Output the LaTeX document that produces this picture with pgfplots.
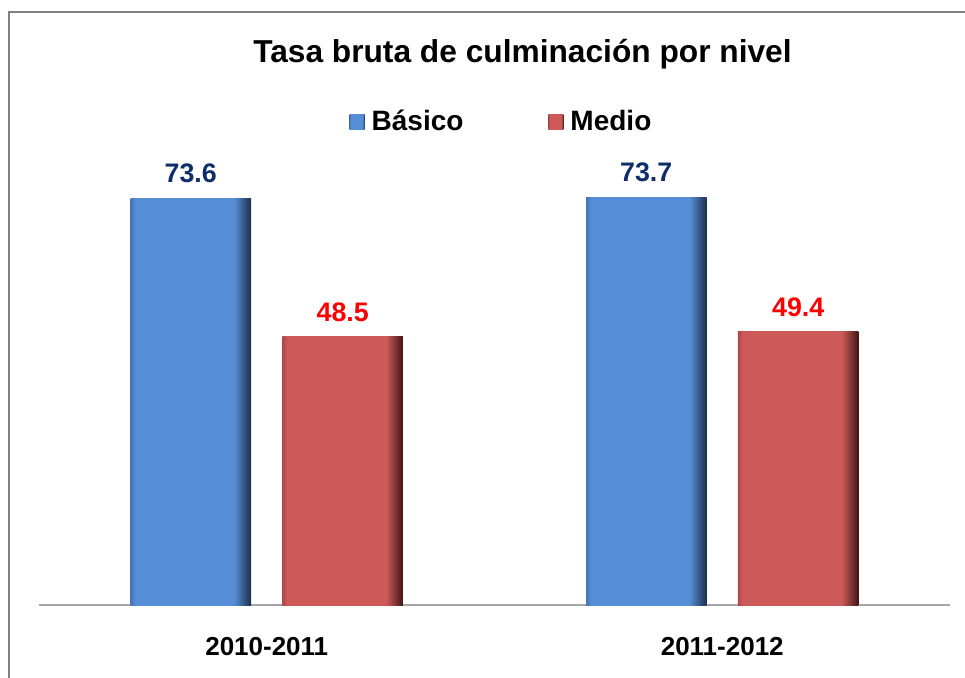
\documentclass[border=0pt]{standalone}
\usepackage{pgfplots}
\pgfplotsset{compat=1.18}
\usepackage{fontspec}
\setmainfont{Liberation Sans}
\definecolor{bL}{HTML}{4675B4}
\definecolor{bM}{HTML}{558ED5}
\definecolor{bR}{HTML}{1C2F4A}
\definecolor{rL}{HTML}{AE4846}
\definecolor{rM}{HTML}{CD5A59}
\definecolor{rR}{HTML}{3E1514}
\definecolor{navy}{HTML}{0F2D69}
\pgfdeclarehorizontalshading{bluebar}{100bp}{color(0bp)=(bL); color(25bp)=(bL); color(27bp)=(bM); color(68bp)=(bM); color(75bp)=(bR); color(100bp)=(bR)}
\pgfdeclarehorizontalshading{redbar}{100bp}{color(0bp)=(rL); color(25bp)=(rL); color(27bp)=(rM); color(68bp)=(rM); color(75bp)=(rR); color(100bp)=(rR)}
\begin{document}
\begin{tikzpicture}[x=0.5pt,y=0.5pt]
\useasboundingbox (0,0) rectangle (965,677);
\draw[color=black!50, line width=1pt] (9,-5) -- (9,665) -- (975,665);
\begin{axis}[
  at={(19.5pt,36pt)}, anchor=south west,
  scale only axis, width=455.5pt, height=221.2pt,
  xmin=-0.5, xmax=1.5, ymin=0, ymax=80,
  axis y line=none, axis x line*=bottom,
  x axis line style={color=black!35, line width=0.8pt},
  xtick={0,1}, xticklabels={2010-2011,2011-2012},
  xtick style={draw=none},
  x tick label style={font=\fontsize{13}{15}\selectfont\bfseries, inner sep=0pt, anchor=north, yshift=-11.5pt},
  ybar, bar width=0.2646,
  /pgf/number format/assume math mode=true,
  every node near coord/.append style={font=\fontsize{13.4}{15}\selectfont\bfseries, inner sep=0pt, anchor=south, yshift=7.5pt},
  title={Tasa bruta de culminación por nivel},
  title style={at={(0.5307,1.2274)}, anchor=base, yshift=-6pt, inner sep=0pt, font=\fontsize{15.85}{18}\selectfont\bfseries},
  legend columns=2,
  legend style={draw=none, fill=none, at={(0.5066,1.0918)}, anchor=center,
    nodes={inner sep=0pt}, font=\fontsize{14}{16}\selectfont\bfseries,
    /tikz/every odd column/.append style={column sep=3.5pt},
    /tikz/every even column/.append style={column sep=42.5pt}},
  legend image code/.code={\path[#1] (0pt,-3.75pt) rectangle (7.5pt,3.75pt);},
  vals/.style={nodes near coords={\pgfmathprintnumber[fixed,precision=1,fixed zerofill]{\pgfplotspointmeta}}},
  basico/.style={vals, draw=none, shading=bluebar, bar shift=-0.1668, every node near coord/.append style={color=navy}},
  medio/.style={vals, draw=none, shading=redbar, bar shift=0.1668, every node near coord/.append style={color=red}},
]
\addplot[basico] coordinates {(0,73.6)};
\addplot[medio] coordinates {(0,48.5)};
\addplot[basico, forget plot] coordinates {(1,73.7)};
\addplot[medio, forget plot] coordinates {(1,49.4)};
\legend{Básico,Medio}
\end{axis}
\end{tikzpicture}
\end{document}
